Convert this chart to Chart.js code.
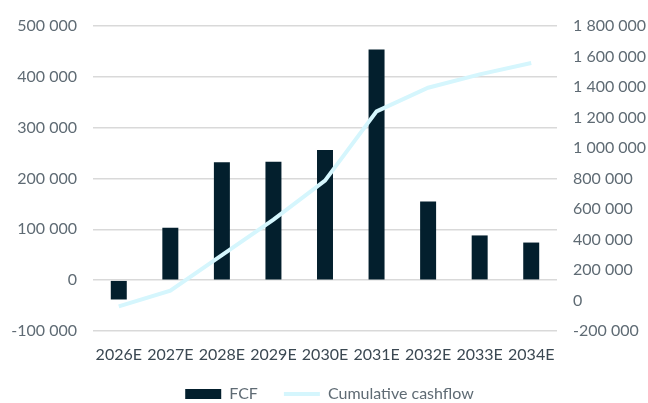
<!DOCTYPE html>
<html lang="en">

<head>
    <meta charset="UTF-8">
    <title>FCF and cumulative cashflow</title>
    <script src="https://cdn.jsdelivr.net/npm/chart.js"></script>
    <style>
        body {
            margin: 0;
            background: #ffffff;
        }
    </style>
</head>

<body>
    <canvas id="cashChart" width="648" height="403"></canvas>

    <script>
        // forecast years
        var years = ['2026E', '2027E', '2028E', '2029E', '2030E', '2031E', '2032E', '2033E', '2034E'];
        // free cash flow per year (left axis)
        var fcf = [-38000, 103000, 232000, 233000, 256000, 454000, 155000, 88000, 74000];
        // cumulative cashflow (right axis)
        var cumulative = [-38000, 65000, 297000, 530000, 786000, 1240000, 1395000, 1483000, 1557000];

        // axis ranges
        var leftMin = -100000, leftMax = 500000, leftStep = 100000;
        var rightMin = -200000, rightMax = 1800000, rightStep = 200000;

        // "1 800 000" style numbers
        function spaced(v) {
            return String(v).replace(/\B(?=(\d{3})+(?!\d))/g, ' ');
        }

        var tickFont = { family: 'Lato', size: 16 };

        var ctx = document.getElementById('cashChart').getContext('2d');
        new Chart(ctx, {
            data: {
                labels: years,
                datasets: [{
                    type: 'line',
                    label: 'Cumulative cashflow',
                    data: cumulative,
                    yAxisID: 'y2',
                    borderColor: '#d5f6fd',
                    backgroundColor: '#d5f6fd',
                    borderWidth: 4,
                    pointRadius: 0,
                    pointStyle: 'line',
                    tension: 0,
                    order: 1
                }, {
                    type: 'bar',
                    label: 'FCF',
                    data: fcf,
                    yAxisID: 'y',
                    backgroundColor: '#031f2d',
                    borderWidth: 0,
                    pointStyle: 'rect',
                    categoryPercentage: 1,
                    barPercentage: 0.31,
                    order: 2
                }]
            },
            options: {
                responsive: false,
                animation: false,
                layout: {
                    // a little extra on the left nudges the legend right
                    padding: { top: 26, left: 11, right: 0, bottom: 0 }
                },
                scales: {
                    x: {
                        grid: { display: false, drawTicks: false },
                        border: { display: false },
                        ticks: { color: '#3b4852', font: tickFont, padding: 14, maxRotation: 0, autoSkip: false },
                        afterFit: function (scale) { scale.height = 29; }
                    },
                    y: {
                        position: 'left',
                        min: leftMin,
                        max: leftMax,
                        grid: { color: '#d9d9d9', lineWidth: 1.5, drawTicks: false },
                        border: { display: false },
                        ticks: {
                            stepSize: leftStep,
                            color: '#5f6b74',
                            font: tickFont,
                            padding: 16,
                            callback: spaced
                        },
                        afterFit: function (scale) { scale.width = 82; }
                    },
                    y2: {
                        position: 'right',
                        min: rightMin,
                        max: rightMax,
                        grid: { display: false, drawTicks: false },
                        border: { display: false },
                        ticks: {
                            stepSize: rightStep,
                            color: '#5f6b74',
                            font: tickFont,
                            padding: 16,
                            callback: spaced
                        },
                        afterFit: function (scale) { scale.width = 91; }
                    }
                },
                plugins: {
                    legend: {
                        position: 'bottom',
                        reverse: true,
                        maxHeight: 43,
                        labels: {
                            usePointStyle: true,
                            pointStyleWidth: 36,
                            boxHeight: 10,
                            padding: 26,
                            color: '#5f6b74',
                            font: tickFont
                        }
                    },
                    tooltip: { enabled: false }
                }
            }
        });
    </script>
</body>

</html>
